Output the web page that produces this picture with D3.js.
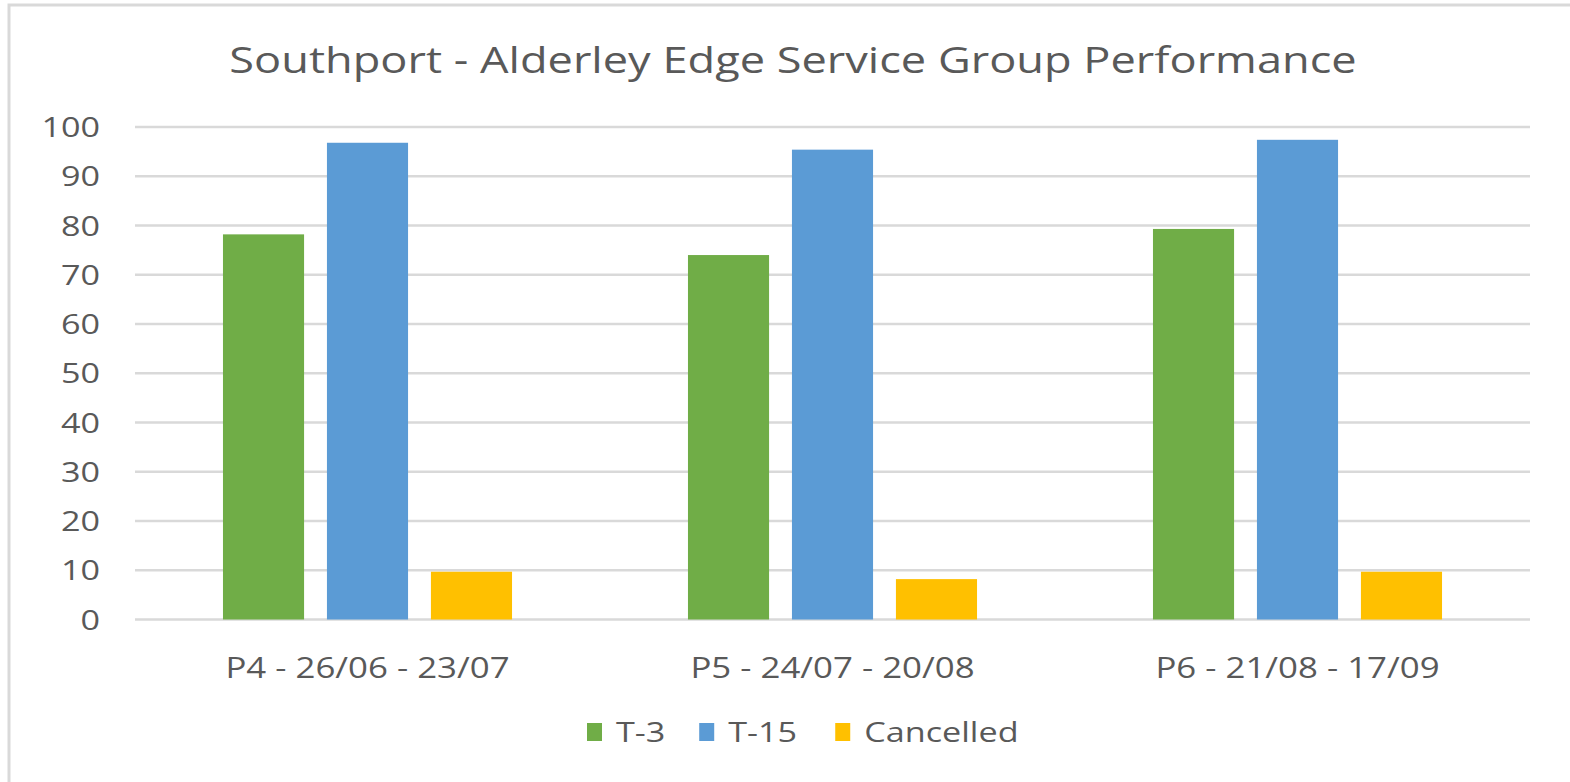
<html>
<head>
    <meta charset="UTF-8">
    <script src="https://d3js.org/d3.v7.min.js"></script>
    <title>Southport - Alderley Edge</title>
    <style>
        body { margin: 0; background: #fff; }
        text { font-family: "Open Sans", sans-serif; fill: #595959; }
    </style>
</head>
<body>
    <svg width="1570" height="782"></svg>

    <script>
        // data
        const perioder = ['P4 - 26/06 - 23/07', 'P5 - 24/07 - 20/08', 'P6 - 21/08 - 17/09'];
        const serier = ['T-3', 'T-15', 'Cancelled'];
        const t3 = [78.2, 74.0, 79.3];
        const t15 = [96.8, 95.4, 97.4];
        const cancelled = [9.7, 8.2, 9.7];
        const yTicks = [0, 10, 20, 30, 40, 50, 60, 70, 80, 90, 100];
        const farver = ['#70ad47', '#5b9bd5', '#ffc000'];

        const svg = d3.select('svg');

        // strækker en tekst vandret via textLength (teksten i originalen er strakt)
        function strækTekst(faktor) {
            return function (sel) {
                sel.each(function () {
                    const l = this.getComputedTextLength();
                    d3.select(this).attr('textLength', l * faktor).attr('lengthAdjust', 'spacingAndGlyphs');
                });
            };
        }

        // ramme (kun venstre og top synlig)
        svg.append('rect')
            .attr('x', 9).attr('y', 5)
            .attr('width', 1600).attr('height', 800)
            .attr('fill', 'none')
            .attr('stroke', '#d9d9d9')
            .attr('stroke-width', 3);

        const venstre = 135, højre = 1530, øverst = 127, bund = 619.5;

        const y = d3.scaleLinear().domain([0, 100]).range([bund, øverst]);
        const x0 = d3.scaleBand().domain(perioder).range([venstre, højre]);
        const x1 = d3.scaleBand().domain(serier).range([0, x0.bandwidth()])
            .paddingInner(0.22).paddingOuter(0.846);

        // titel
        svg.append('text')
            .attr('x', 793).attr('y', 73)
            .attr('text-anchor', 'middle')
            .style('font-size', '37px')
            .text('Southport - Alderley Edge Service Group Performance')
            .call(strækTekst(1.22));

        // gitterlinjer
        svg.append('g').selectAll('line')
            .data(yTicks)
            .join('line')
            .attr('x1', venstre).attr('x2', højre)
            .attr('y1', d => y(d)).attr('y2', d => y(d))
            .attr('stroke', '#d9d9d9')
            .attr('stroke-width', 2.5);

        // y-akse etiketter
        svg.append('g').selectAll('text')
            .data(yTicks)
            .join('text')
            .attr('x', 100)
            .attr('y', d => y(d) + 10)
            .attr('text-anchor', 'end')
            .style('font-size', '28px')
            .text(d => d)
            .call(strækTekst(1.22));

        // søjler
        const rækker = perioder.map((p, i) => ({ periode: p, værdier: [t3[i], t15[i], cancelled[i]] }));
        svg.append('g').selectAll('g')
            .data(rækker)
            .join('g')
            .attr('transform', d => 'translate(' + x0(d.periode) + ',0)')
            .selectAll('rect')
            .data(d => d.værdier.map((v, j) => ({ serie: serier[j], v: v, farve: farver[j] })))
            .join('rect')
            .attr('x', d => x1(d.serie))
            .attr('width', x1.bandwidth())
            .attr('y', d => y(d.v))
            .attr('height', d => y(0) - y(d.v))
            .style('fill', d => d.farve);

        // x-akse etiketter
        svg.append('g').selectAll('text')
            .data(perioder)
            .join('text')
            .attr('x', d => x0(d) + x0.bandwidth() / 2)
            .attr('y', 678)
            .attr('text-anchor', 'middle')
            .style('font-size', '29px')
            .text(d => d)
            .call(strækTekst(1.2));

        // forklaring
        const legend = svg.append('g');
        let lx = 587;
        serier.forEach(function (s, i) {
            legend.append('rect')
                .attr('x', lx).attr('y', 723)
                .attr('width', 15).attr('height', 18)
                .style('fill', farver[i]);
            const t = legend.append('text')
                .attr('x', lx + 29).attr('y', 742)
                .style('font-size', '28px')
                .text(s)
                .call(strækTekst(1.22));
            lx = lx + 29 + t.node().getComputedTextLength() * 1.22 + 23;
        });
    </script>
</body>
</html>
